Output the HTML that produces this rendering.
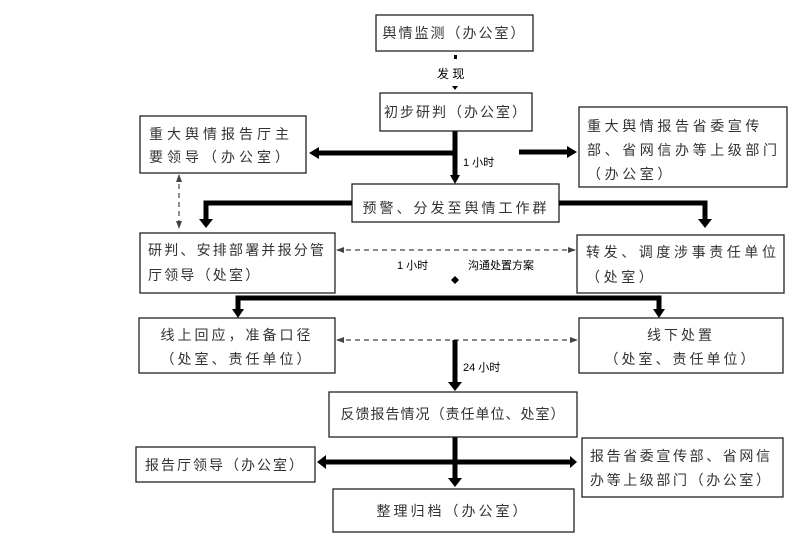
<!DOCTYPE html>
<html><head><meta charset="utf-8"><style>
html,body{margin:0;padding:0;background:#fff;}
svg{display:block}
text{font-family:"Liberation Sans","Noto Sans CJK SC",sans-serif;fill:#333;}
.b{fill:#fff;stroke:#222;stroke-width:1.3}
.t{font-size:14px;letter-spacing:2px}
.s{font-size:11px;fill:#000}
.k{stroke:#000;stroke-width:5;fill:none}
.d{stroke:#444;stroke-width:1.2;stroke-dasharray:5,4;fill:none}
</style></head><body>
<svg width="794" height="541" viewBox="0 0 794 541">
<defs>
<marker id="s" markerWidth="8" markerHeight="8" refX="7" refY="4" orient="auto" markerUnits="userSpaceOnUse"><path d="M0,1L8,4L0,7z" fill="#444"/></marker>
<marker id="s2" markerWidth="8" markerHeight="8" refX="1" refY="4" orient="auto" markerUnits="userSpaceOnUse"><path d="M8,1L0,4L8,7z" fill="#444"/></marker>
</defs>
<!-- connectors -->
<rect x="454" y="55" width="3" height="4" fill="#000"/>
<text x="437" y="78" class="s" style="font-size:12px">发 现</text>
<path d="M452,86L458,86L455,90z" fill="#000"/>
<path class="k" d="M455,131V176"/>
<path d="M450,175L460,175L455,184z" fill="#000"/>
<path class="k" d="M455,153H318"/>
<path d="M319,147L319,159L309,153z" fill="#000"/>
<path class="k" d="M519,152H568"/>
<path d="M567,146L567,158L577,152z" fill="#000"/>
<text x="463" y="166" class="s">1 小时</text>
<path class="k" d="M206,220V203H705V220" />
<path d="M199,219L213,219L206,228z M698,219L712,219L705,228z" fill="#000"/>
<path class="d" d="M179,175V228" marker-start="url(#s2)" marker-end="url(#s)"/>
<path class="d" d="M337,250H575" marker-start="url(#s2)" marker-end="url(#s)"/>
<text x="397" y="269" class="s">1 小时</text>
<text x="468" y="269" class="s">沟通处置方案</text>
<path d="M455,276L459,280L455,284L451,280z" fill="#000"/>
<path class="k" d="M238,310V298H659V310"/>
<path d="M232,309L244,309L238,318z M653,309L665,309L659,318z" fill="#000"/>
<path class="d" d="M337,340H577" marker-start="url(#s2)" marker-end="url(#s)"/>
<path class="k" d="M455,340V382"/>
<path d="M448,382L462,382L455,391z" fill="#000"/>
<text x="463" y="371" class="s">24 小时</text>
<path class="k" d="M455,437V478"/>
<path d="M448,478L462,478L455,487z" fill="#000"/>
<path class="k" d="M326,462H570"/>
<path d="M326,455L326,469L317,462z M570,456L577,462L570,468z" fill="#000"/>
<!-- boxes -->
<rect class="b" x="376" y="15" width="157" height="36"/>
<text class="t" x="454.5" y="38" text-anchor="middle">舆情监测（办公室）</text>
<rect class="b" x="380" y="93" width="152" height="38"/>
<text class="t" x="456" y="117" text-anchor="middle">初步研判（办公室）</text>
<rect class="b" x="140" y="116" width="166" height="57"/>
<text class="t" x="149" y="139" style="letter-spacing:4px">重大舆情报告厅主</text>
<text class="t" x="149" y="162" style="letter-spacing:4px">要领导（办公室）</text>
<rect class="b" x="579" y="107" width="208" height="80"/>
<text class="t" x="587" y="131" style="letter-spacing:3.6px">重大舆情报告省委宣传</text>
<text class="t" x="587" y="155" style="letter-spacing:3.6px">部、省网信办等上级部门</text>
<text class="t" x="587" y="179" style="letter-spacing:3.6px">（办公室）</text>
<rect class="b" x="352" y="184" width="207" height="38"/>
<text class="t" x="456" y="213" text-anchor="middle" style="letter-spacing:3px">预警、分发至舆情工作群</text>
<path class="k" d="M352,203H340 M559,203H571" />
<rect class="b" x="140" y="233" width="195" height="60"/>
<text class="t" x="148" y="255" style="letter-spacing:2.2px">研判、安排部署并报分管</text>
<text class="t" x="148" y="280" style="letter-spacing:2.2px">厅领导（处室）</text>
<rect class="b" x="577" y="235" width="207" height="58"/>
<text class="t" x="586" y="257" style="letter-spacing:3.6px">转发、调度涉事责任单位</text>
<text class="t" x="586" y="282" style="letter-spacing:3.6px">（处室）</text>
<rect class="b" x="139" y="318" width="196" height="55"/>
<text class="t" x="237" y="340" text-anchor="middle" style="letter-spacing:3px">线上回应，准备口径</text>
<text class="t" x="237" y="364" text-anchor="middle" style="letter-spacing:3px">（处室、责任单位）</text>
<rect class="b" x="579" y="318" width="204" height="55"/>
<text class="t" x="681" y="340" text-anchor="middle" style="letter-spacing:3px">线下处置</text>
<text class="t" x="681" y="364" text-anchor="middle" style="letter-spacing:3px">（处室、责任单位）</text>
<rect class="b" x="329" y="392" width="248" height="45"/>
<text class="t" x="453" y="419" text-anchor="middle" style="letter-spacing:1px">反馈报告情况（责任单位、处室）</text>
<rect class="b" x="136" y="447" width="179" height="35"/>
<text class="t" x="225" y="470" text-anchor="middle">报告厅领导（办公室）</text>
<rect class="b" x="582" y="438" width="201" height="59"/>
<text class="t" x="590" y="461" style="letter-spacing:2.6px">报告省委宣传部、省网信</text>
<text class="t" x="590" y="485" style="letter-spacing:2.6px">办等上级部门（办公室）</text>
<rect class="b" x="333" y="489" width="241" height="43"/>
<text class="t" x="453" y="516" text-anchor="middle" style="letter-spacing:3px">整理归档（办公室）</text>
</svg>
</body></html>
